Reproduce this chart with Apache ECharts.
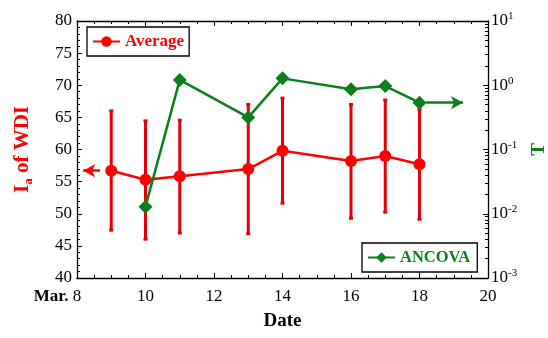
<!DOCTYPE html>
<html><head><meta charset="utf-8">
<script src="https://cdn.jsdelivr.net/npm/echarts@6/dist/echarts.min.js"></script>
<style>html,body{margin:0;padding:0;background:#fff}#c{width:548px;height:338px}</style>
</head><body><div id="c"></div>
<script>
// ---- data ----
const dates = [9, 10, 11, 13, 14, 16, 17, 18];
const average = [56.7, 55.3, 55.85, 56.95, 59.8, 58.2, 59.0, 57.7];
const errHigh = [66.0, 64.45, 64.55, 67.0, 68.0, 67.0, 67.7, 66.2];
const errLow = [47.45, 46.05, 47.0, 46.9, 51.65, 49.3, 50.25, 49.15];
const ancovaDates = [10, 11, 13, 14, 16, 17, 18];
const ancova = [0.0129, 1.21, 0.316, 1.28, 0.865, 0.97, 0.536];
const xTicks = [8, 10, 12, 14, 16, 18, 20];

const FONT = 'Liberation Serif';
const RED = '#ff0000', ERR = '#e3000b', GREEN = '#0a7f1c';

const chart = echarts.init(document.getElementById('c'));
const frameTick = { show: true, inside: true, length: 5, lineStyle: { color: '#000', width: 1 } };
const frameMinor = { show: true, splitNumber: 4, length: 3, lineStyle: { color: '#000', width: 1 } };

const option = {
  animation: false,
  grid: { left: 77, right: 60, top: 21, bottom: 60, containLabel: false, outerBoundsMode: 'none' },
  legend: [
    { data: ['Average'], left: 87, top: 27, orient: 'horizontal',
      borderColor: '#000', borderWidth: 1.3, padding: [6, 5], itemWidth: 27, itemHeight: 13,
      textStyle: { fontFamily: FONT, fontWeight: 'bold', fontSize: 17, color: RED } },
    { data: ['ANCOVA'], left: 362, top: 243, orient: 'horizontal',
      borderColor: '#000', borderWidth: 1.3, padding: [6, 7, 6, 5], itemWidth: 27, itemHeight: 13,
      textStyle: { fontFamily: FONT, fontWeight: 'bold', fontSize: 16.5, color: GREEN } }
  ],
  xAxis: [
    { type: 'value', min: xTicks[0], max: xTicks[xTicks.length - 1], interval: 2,
      name: 'Date', nameLocation: 'middle', nameGap: 34,
      nameTextStyle: { fontFamily: FONT, fontWeight: 'bold', fontSize: 19, color: '#000' },
      axisLine: { show: true, onZero: false, lineStyle: { color: '#000', width: 1.3 } },
      axisTick: frameTick, minorTick: frameMinor, splitLine: { show: false },
      axisLabel: { margin: 10, fontFamily: FONT, fontSize: 17, color: '#000',
        formatter: v => v === xTicks[0] ? '{m|Mar. }' + v + '{h|Mar. }' : String(v),
        rich: { m: { fontFamily: FONT, fontWeight: 'bold', fontSize: 17, color: '#000' },
                h: { fontFamily: FONT, fontWeight: 'bold', fontSize: 17, color: 'rgba(0,0,0,0)' } } } },
    { type: 'value', position: 'top', min: xTicks[0], max: xTicks[xTicks.length - 1], interval: 2,
      axisLine: { show: true, onZero: false, lineStyle: { color: '#000', width: 1.3 } },
      axisTick: frameTick, minorTick: frameMinor, splitLine: { show: false }, axisLabel: { show: false } }
  ],
  yAxis: [
    { type: 'value', min: 40, max: 80, interval: 5,
      name: '{i|I}{a|a}{o| of WDI}', nameLocation: 'middle', nameGap: 42, nameRotate: 90,
      nameTextStyle: { rich: {
        i: { fontFamily: FONT, fontWeight: 'bold', fontSize: 21, color: RED, lineHeight: 24 },
        a: { fontFamily: FONT, fontWeight: 'bold', fontSize: 13, color: RED, verticalAlign: 'bottom', lineHeight: 24, padding: [10, 0, 0, 0] },
        o: { fontFamily: FONT, fontWeight: 'bold', fontSize: 21, color: RED, lineHeight: 24 } } },
      axisLine: { show: true, onZero: false, lineStyle: { color: '#000', width: 1.3 } },
      axisTick: frameTick, minorTick: { show: true, splitNumber: 5, length: 3, lineStyle: { color: '#000' } },
      splitLine: { show: false },
      axisLabel: { margin: 5, fontFamily: FONT, fontSize: 17, color: '#000' } },
    { type: 'log', logBase: 10, min: 0.001, max: 10, position: 'right',
      name: 'T', nameLocation: 'middle', nameGap: 42, nameRotate: 90,
      nameTextStyle: { fontFamily: FONT, fontWeight: 'bold', fontSize: 19, color: GREEN },
      axisLine: { show: true, onZero: false, lineStyle: { color: '#000', width: 1.3 } },
      axisTick: frameTick, minorTick: { show: true, splitNumber: 9, length: 3, lineStyle: { color: '#000' } },
      splitLine: { show: false },
      axisLabel: { margin: 3, color: '#000',
        formatter: v => '{b|10}{s|' + Math.round(Math.log10(v)) + '}',
        rich: { b: { fontFamily: FONT, fontSize: 17, color: '#000', lineHeight: 20 },
                s: { fontFamily: FONT, fontSize: 11, color: '#000', verticalAlign: 'top', lineHeight: 20, padding: [0, 0, 10, 0] } } } }
  ],
  series: [
    { type: 'custom', name: 'err', xAxisIndex: 0, yAxisIndex: 0, z: 2,
      data: dates.map((d, i) => [d, errLow[i], errHigh[i]]),
      renderItem: (params, api) => {
        const x = api.value(0);
        const lo = api.coord([x, api.value(1)]);
        const hi = api.coord([x, api.value(2)]);
        const w = 2;
        const style = { stroke: ERR, lineWidth: 3, fill: null };
        return { type: 'group', children: [
          { type: 'line', shape: { x1: lo[0], y1: lo[1], x2: hi[0], y2: hi[1] }, style },
          { type: 'line', shape: { x1: lo[0] - w, y1: lo[1], x2: lo[0] + w, y2: lo[1] }, style },
          { type: 'line', shape: { x1: hi[0] - w, y1: hi[1], x2: hi[0] + w, y2: hi[1] }, style }
        ] };
      } },
    { type: 'line', name: 'Average', xAxisIndex: 0, yAxisIndex: 0, z: 3,
      data: dates.map((d, i) => [d, average[i]]),
      symbol: 'circle', symbolSize: 12, lineStyle: { color: RED, width: 2.5 },
      itemStyle: { color: RED },
      markLine: { silent: true, symbol: ['none', 'arrow'], symbolSize: [10, 12], label: { show: false },
        lineStyle: { color: RED, width: 2.5, type: 'solid' },
        data: [[{ coord: [dates[0] - 0.33, average[0]] }, { coord: [dates[0] - 0.82, average[0]] }]] } },
    { type: 'line', name: 'ANCOVA', xAxisIndex: 0, yAxisIndex: 1, z: 4,
      data: ancovaDates.map((d, i) => [d, ancova[i]]),
      symbol: 'diamond', symbolSize: 14, lineStyle: { color: GREEN, width: 2.5 },
      itemStyle: { color: GREEN },
      markLine: { silent: true, symbol: ['none', 'arrow'], symbolSize: [10, 12], label: { show: false },
        lineStyle: { color: GREEN, width: 2.5, type: 'solid' },
        data: [[{ coord: [ancovaDates[ancovaDates.length - 1] + 0.19, ancova[ancova.length - 1]] },
                { coord: [ancovaDates[ancovaDates.length - 1] + 1.27, ancova[ancova.length - 1]] }]] } }
  ]
};
chart.setOption(option);
</script></body></html>
